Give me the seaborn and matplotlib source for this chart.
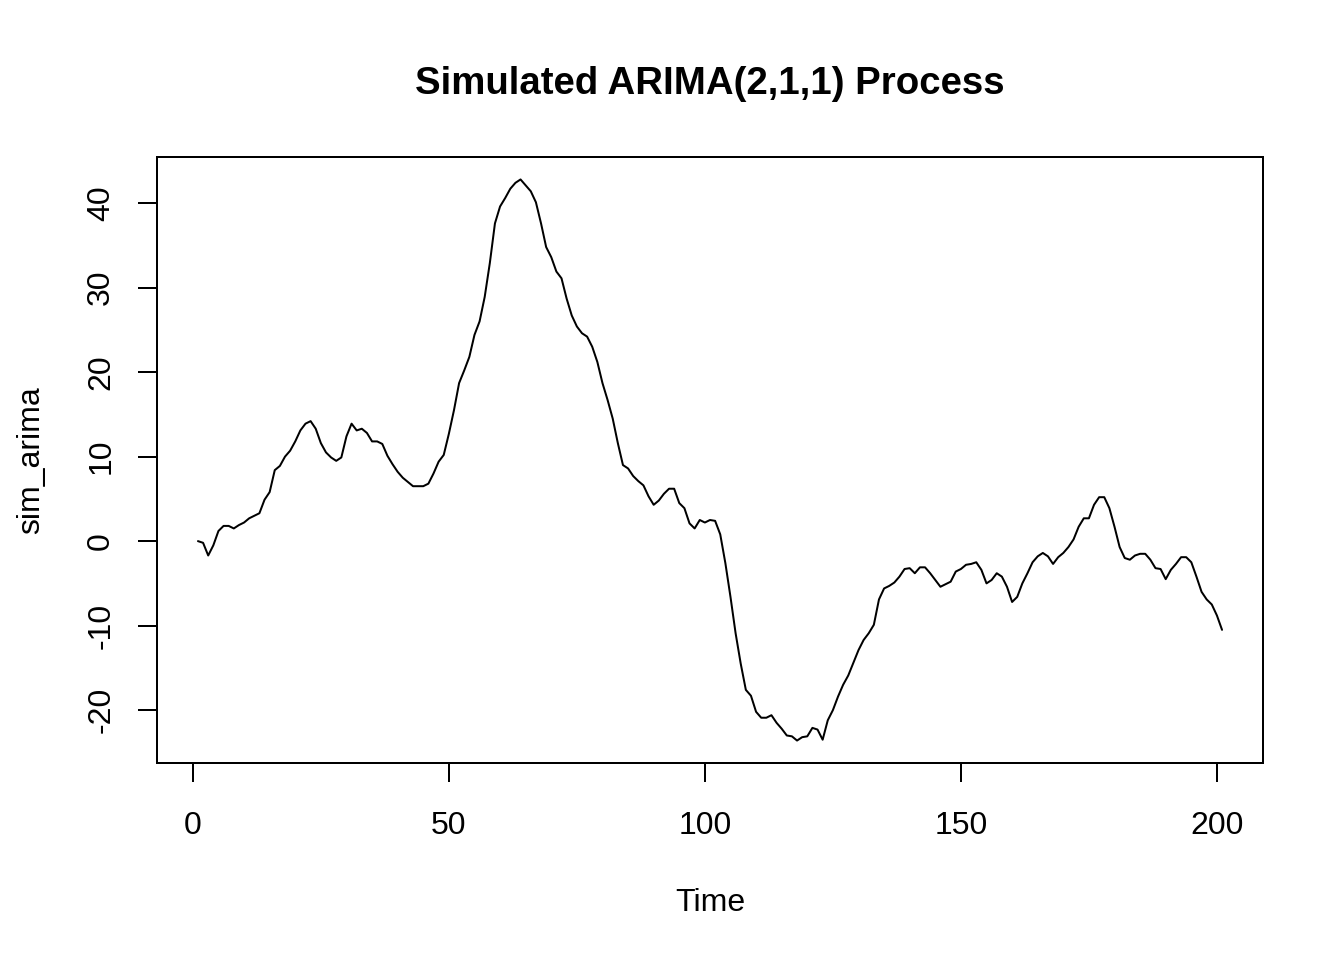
import numpy as np
import pandas as pd
import matplotlib
matplotlib.use('Agg')
import matplotlib.pyplot as plt
import seaborn as sns

# values, one per time step (t = 1..201)
sim_arima = [
    0.0, -0.2, -1.7, -0.5, 1.2, 1.8, 1.8, 1.5, 1.9, 2.2,
    2.7, 3.0, 3.3, 4.9, 5.8, 8.4, 8.9, 10.0, 10.7, 11.8,
    13.1, 13.9, 14.2, 13.3, 11.6, 10.5, 9.9, 9.5, 9.9, 12.4,
    13.9, 13.1, 13.3, 12.8, 11.8, 11.8, 11.5, 10.1, 9.1, 8.2,
    7.5, 7.0, 6.5, 6.5, 6.5, 6.8, 8.0, 9.4, 10.2, 12.7,
    15.5, 18.7, 20.2, 21.8, 24.4, 26.0, 28.9, 32.9, 37.6, 39.6,
    40.6, 41.7, 42.4, 42.8, 42.1, 41.4, 40.1, 37.6, 34.8, 33.6,
    31.9, 31.1, 28.7, 26.7, 25.4, 24.6, 24.2, 23.0, 21.2, 18.7,
    16.7, 14.5, 11.6, 9.0, 8.6, 7.7, 7.1, 6.6, 5.3, 4.3,
    4.8, 5.6, 6.2, 6.2, 4.5, 3.9, 2.1, 1.5, 2.5, 2.2,
    2.5, 2.4, 0.8, -2.6, -6.6, -10.9, -14.5, -17.6, -18.3, -20.2,
    -20.9, -20.9, -20.6, -21.5, -22.2, -23.0, -23.1, -23.6, -23.2, -23.1,
    -22.1, -22.3, -23.5, -21.2, -20.0, -18.4, -17.0, -15.9, -14.4, -12.9,
    -11.7, -10.9, -9.9, -6.9, -5.6, -5.3, -4.9, -4.2, -3.3, -3.2,
    -3.8, -3.1, -3.1, -3.8, -4.6, -5.4, -5.1, -4.8, -3.6, -3.3,
    -2.8, -2.7, -2.5, -3.4, -5.0, -4.6, -3.8, -4.2, -5.4, -7.2,
    -6.6, -5.0, -3.8, -2.5, -1.8, -1.4, -1.8, -2.7, -1.9, -1.4,
    -0.7, 0.2, 1.7, 2.7, 2.7, 4.3, 5.2, 5.2, 3.9, 1.7,
    -0.7, -2.0, -2.2, -1.7, -1.5, -1.5, -2.2, -3.2, -3.3, -4.5,
    -3.4, -2.7, -1.9, -1.9, -2.5, -4.2, -6.0, -6.9, -7.5, -8.8,
    -10.5,
]
time = list(range(1, len(sim_arima) + 1))
x_ticks = [0, 50, 100, 150, 200]
y_ticks = [-20, -10, 0, 10, 20, 30, 40]

df = pd.DataFrame({'Time': time, 'sim_arima': sim_arima})

sns.set_theme(style='white')
plt.rcParams['font.family'] = ['Liberation Sans', 'DejaVu Sans']

W, H = 1344, 960
fig = plt.figure(figsize=(7, 5), dpi=192)
ax = fig.add_axes([157 / W, 1 - 763 / H, 1106 / W, 606 / H])

sns.lineplot(data=df, x='Time', y='sim_arima', ax=ax, color='black', linewidth=0.75)

# R style 4% padding around the data range
def padded(lo, hi):
    d = (hi - lo) * 0.04
    return lo - d, hi + d

ax.set_xlim(padded(min(time), max(time)))
ax.set_ylim(padded(min(sim_arima), max(sim_arima)))
ax.set_xticks(x_ticks)
ax.set_yticks(y_ticks)
ax.set_xticklabels([str(v) for v in x_ticks])
ax.set_yticklabels([str(v) for v in y_ticks])

for s in ax.spines.values():
    s.set_visible(True)
    s.set_color('black')
    s.set_linewidth(0.75)

ax.tick_params(axis='both', which='major', length=7.1, width=0.75, color='black',
               labelsize=12, labelcolor='black', direction='out')
ax.tick_params(axis='x', pad=10.8, bottom=True)
ax.tick_params(axis='y', pad=8.2, left=True, labelrotation=90)
for lbl in ax.get_yticklabels():
    lbl.set_va('center')

ax.set_xlabel('Time', fontsize=12, color='black', va='center')
ax.xaxis.set_label_coords(0.5, (763 - 903) / 606)
ax.set_ylabel('sim_arima', fontsize=12, color='black', va='center')
ax.yaxis.set_label_coords((31 - 157) / 1106, 0.5)

ax.set_title('Simulated ARIMA(2,1,1) Process', fontsize=14.4, fontweight='bold',
             color='black', pad=23.6)

fig.savefig('out.png', dpi=192, facecolor='white')
